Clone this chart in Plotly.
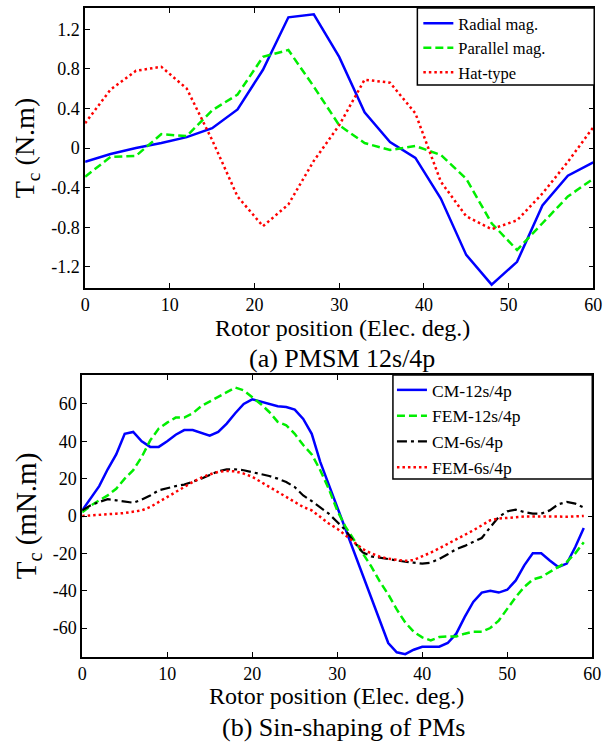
import plotly.graph_objects as go

# ---------------- data (a) PMSM 12s/4p ----------------
pos_a = [0, 3, 6, 9, 12, 15, 18, 21, 24, 27, 30, 33, 36, 39, 42, 45, 48, 51, 54, 57, 60]
radial = [-0.14, -0.06, 0.0, 0.05, 0.11, 0.20, 0.39, 0.79, 1.32, 1.35, 0.92, 0.36, 0.06,
          -0.10, -0.51, -1.08, -1.38, -1.15, -0.58, -0.28, -0.145]
parallel = [-0.29, -0.09, -0.08, 0.14, 0.12, 0.38, 0.54, 0.92, 0.99, 0.62, 0.23, 0.05, -0.02,
            0.02, -0.07, -0.31, -0.76, -1.03, -0.76, -0.49, -0.31]
hat = [0.25, 0.59, 0.78, 0.82, 0.60, 0.08, -0.49, -0.79, -0.57, -0.13, 0.23, 0.69, 0.66,
       0.35, -0.34, -0.69, -0.82, -0.73, -0.46, -0.14, 0.21]
yticks_a = [-1.2, -0.8, -0.4, 0, 0.4, 0.8, 1.2]
yticktext_a = ["-1.2", "-0.8", "-0.4", "0", "0.4", "0.8", "1.2"]

# ---------------- data (b) Sin-shaping of PMs ----------------
pos_b = [0, 1, 2, 3, 4, 5, 6, 7, 8, 9, 10, 11, 12, 13, 14, 15, 16, 17, 18, 19,
         20, 21, 22, 23, 24, 25, 26, 27, 28, 29, 30, 31, 32, 33, 34, 35, 36, 37, 38, 39,
         40, 41, 42, 43, 44, 45, 46, 47, 48, 49, 50, 51, 52, 53, 54, 55, 56, 57, 58, 59]
cm_12 = [3, 9.5, 16, 25, 33, 44, 45, 40, 37, 37, 40, 43.5, 46, 46, 44.6, 43, 45, 49.5, 55, 60,
         62.5, 61.4, 60, 58.8, 58.4, 57, 52, 44, 29, 17, 5, -7.3, -19.6, -31.6, -44, -56, -68, -73, -74, -71.6,
         -70, -70, -70, -68, -63, -54, -46, -41, -40, -41, -39.5, -34.5, -26.4, -20, -20, -23.8, -27.3, -25.5, -16.6, -6.4]
fem_12 = [2, 5.5, 8.4, 11, 14.6, 20, 24.5, 31.6, 40.5, 46.8, 50, 52.7, 52.7, 55, 58.8, 61.4, 63.8, 66.4, 68.8, 67.3,
          63.8, 60, 55.7, 50.4, 48.6, 44, 38, 33, 24.5, 14.6, 3, -6, -13, -20, -27, -35, -42, -50, -57, -62,
          -65, -66.6, -64.8, -64.5, -64.5, -63, -62, -62, -60, -56, -49.6, -43.4, -38, -34, -32.7, -30, -27.3, -24.6, -20, -14]
cm_6 = [3, 5.7, 7.5, 9, 8.4, 7.7, 7.1, 8.75, 11, 13.75, 15, 16, 16.8, 18.2, 20, 22, 24, 25, 25, 24.5,
        23.6, 22.7, 21.4, 20, 18.2, 15.5, 11, 8, 4.8, 1.25, -3.2, -7.7, -14, -19.5, -21.6, -22.3, -23.4, -24, -24.5, -25,
        -25.5, -25, -23, -20.5, -17.7, -16, -14, -11.8, -6, -0.5, 2.5, 3.4, 2.1, 1.25, 1.25, 3, 6.25, 7.5, 6.6, 4.5]
fem_6 = [0, 0.4, 0.7, 0.9, 1.25, 1.6, 2.1, 3, 4.8, 7.5, 10.2, 12.9, 15.5, 18.2, 20.5, 22.3, 23.6, 24.1, 23.9, 22.7,
         21, 18.2, 15.5, 12.9, 10.2, 7.5, 4.8, 3, -0.5, -4, -6.8, -10.4, -14, -17.7, -20, -21.8, -22.9, -23.6, -24, -23.6,
         -21.8, -19.6, -17.3, -15, -12.7, -10.2, -7.7, -5, -2.3, -1.4, -0.9, -0.5, -0.3, -0.3, -0.2, -0.2, -0.3, -0.4, -0.2, 0]
yticks_b = [-60, -40, -20, 0, 20, 40, 60]
yticktext_b = ["-60", "-40", "-20", "0", "20", "40", "60"]
xticks = [0, 10, 20, 30, 40, 50, 60]

names_a = ["Radial mag.", "Parallel mag.", "Hat-type"]
names_b = ["CM-12s/4p", "FEM-12s/4p", "CM-6s/4p", "FEM-6s/4p"]

FONT = "Liberation Serif, Times New Roman, serif"
W, H = 613, 742

fig = go.Figure()
# (a)
fig.add_trace(go.Scatter(x=pos_a, y=radial, mode="lines", name=names_a[0],
                         line=dict(color="#0000ff", width=2.5), xaxis="x", yaxis="y", legend="legend"))
fig.add_trace(go.Scatter(x=pos_a, y=parallel, mode="lines", name=names_a[1],
                         line=dict(color="#00ee00", width=2.5, dash="8px,4px"), xaxis="x", yaxis="y", legend="legend"))
fig.add_trace(go.Scatter(x=pos_a, y=hat, mode="lines", name=names_a[2],
                         line=dict(color="#ff0000", width=2.5, dash="2.5px,3px"), xaxis="x", yaxis="y", legend="legend"))
# (b)
fig.add_trace(go.Scatter(x=pos_b, y=cm_12, mode="lines", name=names_b[0],
                         line=dict(color="#0000ff", width=2.5), xaxis="x2", yaxis="y2", legend="legend2"))
fig.add_trace(go.Scatter(x=pos_b, y=fem_12, mode="lines", name=names_b[1],
                         line=dict(color="#00ee00", width=2.5, dash="8px,4px"), xaxis="x2", yaxis="y2", legend="legend2"))
fig.add_trace(go.Scatter(x=pos_b, y=cm_6, mode="lines", name=names_b[2],
                         line=dict(color="#000000", width=2.2, dash="10px,4px,3px,4px"), xaxis="x2", yaxis="y2", legend="legend2"))
fig.add_trace(go.Scatter(x=pos_b, y=fem_6, mode="lines", name=names_b[3],
                         line=dict(color="#ff0000", width=2.5, dash="2.5px,3px"), xaxis="x2", yaxis="y2", legend="legend2"))

axis_common = dict(showline=True, linecolor="black", linewidth=1.5, mirror="allticks",
                   ticks="inside", ticklen=5, tickwidth=1, tickcolor="black",
                   showgrid=False, zeroline=False,
                   tickfont=dict(family=FONT, size=18, color="black"))

xdom_a = [82 / W, 602 / W]
ydom_a = [1 - 288 / H, 1 - 8 / H]
xdom_b = [79 / W, 601 / W]
ydom_b = [1 - 657 / H, 1 - 375 / H]

# legend frames (pixel boxes: left, top, right, bottom)
box_a = (422, 8, 603, 85)
box_b = (397, 375, 601, 479)


def label(text, xc, yc, size=25):
    return dict(text=text, x=xc / W, y=1 - yc / H, xref="paper", yref="paper",
                xanchor="center", yanchor="middle", showarrow=False,
                font=dict(family=FONT, size=size, color="black"))


def frame(b):
    return dict(type="rect", xref="paper", yref="paper", layer="above",
                x0=b[0] / W, x1=b[2] / W, y0=1 - b[3] / H, y1=1 - b[1] / H,
                fillcolor="white", line=dict(color="black", width=1.5))


fig.update_layout(
    width=W, height=H,
    margin=dict(l=0, r=0, t=0, b=0),
    paper_bgcolor="white", plot_bgcolor="white",
    font=dict(family=FONT, color="black"),
    xaxis=dict(domain=xdom_a, anchor="y", range=[0, 60], tickvals=xticks, **axis_common),
    yaxis=dict(domain=ydom_a, anchor="x", range=[-1.414, 1.414], tickvals=yticks_a, ticktext=yticktext_a,
               title=dict(text="T<sub>c</sub> (N.m)", font=dict(family=FONT, size=28), standoff=8),
               **axis_common),
    xaxis2=dict(domain=xdom_b, anchor="y2", range=[0, 60], tickvals=xticks, **axis_common),
    yaxis2=dict(domain=ydom_b, anchor="x2", range=[-75.5, 75.5], tickvals=yticks_b, ticktext=yticktext_b,
                title=dict(text="T<sub>c</sub> (mN.m)", font=dict(family=FONT, size=29), standoff=8),
                **axis_common),
    legend=dict(x=423 / W, y=1 - 6 / H, xanchor="left", yanchor="top",
                bgcolor="rgba(0,0,0,0)", borderwidth=0,
                font=dict(family=FONT, size=16.5, color="black")),
    legend2=dict(x=396 / W, y=1 - 372 / H, xanchor="left", yanchor="top",
                 bgcolor="rgba(0,0,0,0)", borderwidth=0,
                 font=dict(family=FONT, size=17.5, color="black")),
    showlegend=True,
    shapes=[frame(box_a), frame(box_b)],
    annotations=[
        label("Rotor position (Elec. deg.)", 345, 328, 24),
        label("(a) PMSM 12s/4p", 345, 359, 26),
        label("Rotor position (Elec. deg.)", 339, 696, 24),
        label("(b) Sin-shaping of PMs", 346, 727, 26),
    ],
)

fig.write_html("out.html")
